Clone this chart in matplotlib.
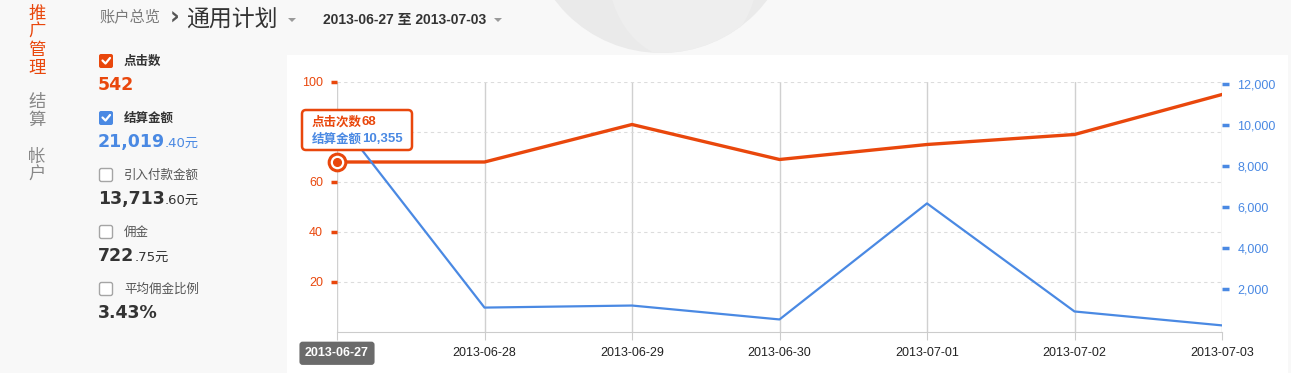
import matplotlib
matplotlib.use("Agg")
import matplotlib.pyplot as plt
from matplotlib.patches import Circle, Ellipse, FancyBboxPatch, Rectangle, Polygon

plt.rcParams["font.family"] = ["Liberation Sans", "Noto Sans CJK SC", "DejaVu Sans"]

# -- data ---------------------------------------------------------------------
dates = ["2013-06-27", "2013-06-28", "2013-06-29", "2013-06-30",
         "2013-07-01", "2013-07-02", "2013-07-03"]
clicks = [68, 68, 83, 69, 75, 79, 95]
amount = [10355, 1090, 1190, 510, 6180, 900, 220]

left_ticks = [20, 40, 60, 80, 100]
left_labels = ["20", "40", "60", "", "100"]   # 80 sits under the tooltip
right_ticks = [2000, 4000, 6000, 8000, 10000, 12000]

nav_active = ["推", "广", "管", "理"]
nav_other = [["结", "算"], ["帐", "户"]]

metric_names = ["点击数", "结算金额", "引入付款金额", "佣金", "平均佣金比例"]
metric_main = ["542", "21,019", "13,713", "722", "3.43%"]
metric_tail = ["", ".40元", ".60元", ".75元", ""]
metric_checked = [True, True, False, False, False]

ORANGE = "#e9470c"
BLUE = "#4a89e3"
W, H = 1291, 373

fig = plt.figure(figsize=(W / 100, H / 100), dpi=100, facecolor="#f8f8f8")

# background layer in pixel coordinates
bg = fig.add_axes([0, 0, 1, 1])
bg.set_xlim(0, W)
bg.set_ylim(H, 0)
bg.axis("off")
bg.set_zorder(-1)

outer = Circle((661, -80), 133, fc="#eaeaea", ec="none")
bg.add_patch(outer)
inner = Ellipse((683, -30), 150, 180, fc="#eeeeee", ec="none")
bg.add_patch(inner)
inner.set_clip_path(outer)
bg.add_patch(Rectangle((287, 55), 1001, 330, fc="white", ec="none"))

# sidebar
for i, ch in enumerate(nav_active):
    bg.text(37, 14 + 18 * i, ch, color=ORANGE, fontsize=12.5, ha="center", va="center",
            family=["Noto Sans CJK SC"])
for j, grp in enumerate(nav_other):
    for i, ch in enumerate(grp):
        bg.text(37, 102 + 55 * j + 18 * i, ch, color="#888888", fontsize=12.5,
                ha="center", va="center", family=["Noto Sans CJK SC"])

# header
bg.text(99, 17, "账户总览", color="#7a7a7a", fontsize=11, va="center",
        family=["Noto Sans CJK SC"])
bg.text(170, 18, "›", color="#555555", fontsize=17, va="center", fontweight="bold",
        family=["DejaVu Sans"])
bg.text(186, 19, "通用计划", color="#333333", fontsize=16.5, va="center",
        family=["Noto Sans CJK SC"])
bg.text(323, 20, "2013-06-27 至 2013-07-03", color="#333333", fontsize=10,
        va="center", fontweight="bold")
for tx in (292, 498):
    bg.add_patch(Polygon([[tx - 4, 18], [tx + 4, 18], [tx, 22]], fc="#9a9a9a", ec="none"))

# metrics column
renderer = fig.canvas.get_renderer()
for k, name in enumerate(metric_names):
    cy = 61 + 57 * k
    if metric_checked[k]:
        fc = ORANGE if k == 0 else BLUE
        bg.add_patch(FancyBboxPatch((99, cy - 7), 14, 14, boxstyle="round,pad=0,rounding_size=2",
                                    fc=fc, ec="none"))
        bg.plot([102.5, 105.5, 110], [cy - 0.5, cy + 2.5, cy - 3], color="white", lw=1.6,
                solid_capstyle="round")
    else:
        bg.add_patch(FancyBboxPatch((99.5, cy - 6.5), 13, 13, boxstyle="round,pad=0,rounding_size=2",
                                    fc="white", ec="#a5a5a5", lw=1))
    bold = k < 2
    bg.text(124, cy, name, color="#333333" if bold else "#555555", fontsize=9, va="center",
            fontweight="bold" if bold else "normal", family=["Noto Sans CJK SC"])
    vcol = ORANGE if k == 0 else (BLUE if k == 1 else "#333333")
    t = bg.text(98, cy + 24, metric_main[k], color=vcol, fontsize=12.5, va="center",
                fontweight="bold", family=["DejaVu Sans"])
    if metric_tail[k]:
        ext = t.get_window_extent(renderer)
        bg.text(ext.x1, cy + 25, metric_tail[k], color=vcol, fontsize=9.5, va="center",
                family=["DejaVu Sans", "Noto Sans CJK SC"])

# -- chart --------------------------------------------------------------------
x = list(range(len(dates)))
ax = fig.add_axes([337 / W, (H - 332) / H, (1222 - 337) / W, 250 / H])
ax.patch.set_visible(False)
ax.set_xlim(0, len(dates) - 1)
ax.set_ylim(0, 100)
ax.set_yticks(left_ticks)
ax.set_yticklabels(left_labels)
ax.set_xticks(x)
ax.set_xticklabels(dates)
for s in ("left", "right", "top"):
    ax.spines[s].set_visible(False)
ax.spines["bottom"].set_color("#cccccc")
ax.grid(axis="x", color="#d0d0d0", lw=1)
ax.grid(axis="y", color="#dcdcdc", lw=0.8, linestyle=(0, (3, 3)))
ax.tick_params(axis="x", length=6, color="#cccccc", labelsize=9, labelcolor="#222222", pad=5)
ax.tick_params(axis="y", length=4, width=2.5, color=ORANGE, labelcolor=ORANGE,
               labelsize=9, pad=6)

ax.plot(x, clicks, color=ORANGE, lw=2.4, solid_joinstyle="miter")
ax.plot(x[:1], clicks[:1], "o", ms=12, mfc="white", mec=ORANGE, mew=2.2, clip_on=False, zorder=4)
ax.plot(x[:1], clicks[:1], "o", ms=5.5, color=ORANGE, clip_on=False, zorder=5)

first = ax.get_xticklabels()[0]
first.set_color("white")
first.set_fontweight("bold")
first.set_bbox(dict(boxstyle="round,pad=0.45,rounding_size=0.25", fc="#6b6b6b", ec="none"))

ax2 = ax.twinx()
ax2.set_ylim(-103, 12112)
ax2.set_yticks(right_ticks)
ax2.set_yticklabels([f"{v:,}" for v in right_ticks])
for s in ax2.spines.values():
    s.set_visible(False)
ax2.tick_params(axis="y", length=5, width=2.5, color=BLUE, labelcolor=BLUE,
                labelsize=9, pad=6)
ax2.plot(x, amount, color=BLUE, lw=1.6)

# tooltip on top
top = fig.add_axes([0, 0, 1, 1])
top.set_xlim(0, W)
top.set_ylim(H, 0)
top.axis("off")
top.set_zorder(5)
top.add_patch(FancyBboxPatch((302, 110), 110, 40, boxstyle="round,pad=0,rounding_size=4",
                             fc="white", ec=ORANGE, lw=1.8))
t1 = top.text(312, 122, "点击次数", color=ORANGE, fontsize=9, fontweight="bold", va="center",
              family=["Noto Sans CJK SC"])
e1 = t1.get_window_extent(renderer)
top.text(e1.x1, 122, f"{clicks[0]}", color=ORANGE, fontsize=9.5, fontweight="bold", va="center")
t2 = top.text(312, 139, "结算金额", color=BLUE, fontsize=9, fontweight="bold", va="center",
              family=["Noto Sans CJK SC"])
e2 = t2.get_window_extent(renderer)
top.text(e2.x1, 139, f"{amount[0]:,}", color=BLUE, fontsize=9.5, fontweight="bold", va="center")

fig.savefig("out.png", dpi=100, facecolor=fig.get_facecolor())
